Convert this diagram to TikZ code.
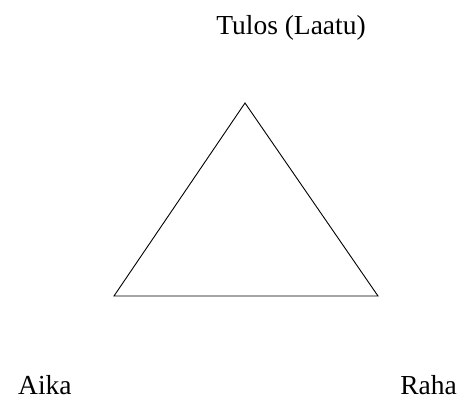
\documentclass[tikz,border=0pt]{standalone}
\usepackage{fontspec}
\setmainfont{Liberation Serif}
\begin{document}
\begin{tikzpicture}[x=1pt,y=1pt,
  lbl/.style={font=\fontsize{27.5}{30}\selectfont, inner sep=0pt},
  edge/.style={draw=black, line width=0.9pt, line join=miter}]
\useasboundingbox (0,0) rectangle (461,407);
\coordinate (top) at (245,304);
\coordinate (bl) at (114,111);
\coordinate (br) at (378,111);
\draw[edge] (top) -- (bl) -- (br) -- cycle;
\node[lbl, anchor=base] (tulos) at (291,372) {Tulos (Laatu)};
\node[lbl, anchor=base west] (aika) at (18,12) {Aika};
\node[lbl, anchor=base east] (raha) at (457,12) {Raha};
\end{tikzpicture}
\end{document}
